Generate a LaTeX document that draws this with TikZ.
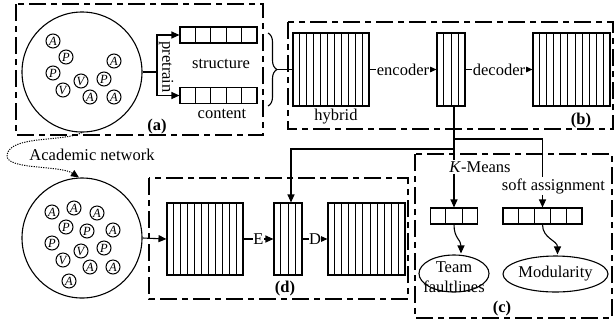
\documentclass[tikz,border=0pt]{standalone}
\usepackage{fontspec}
\setmainfont{Liberation Serif}
\usetikzlibrary{arrows.meta,calc,shapes.geometric,decorations.pathreplacing}
\newcommand{\cellarr}[5]{%
  \node[arr, minimum width=#4 pt, minimum height=#5 pt] (#1) at (#2) {};
  \pgfmathtruncatemacro{\cellm}{#3-1}%
  \foreach \ci in {1,...,\cellm}{\draw[arrline] ($(#1.south west)!\ci/#3!(#1.south east)$) -- ($(#1.north west)!\ci/#3!(#1.north east)$);}%
}
\begin{document}
\begin{tikzpicture}[x=1pt,y=-1pt,
  every node/.style={font=\fontsize{16.5}{19}\selectfont, inner sep=1pt},
  arr/.style={draw, line width=1.1pt, rectangle, inner sep=0pt},
  arrline/.style={line width=1pt},
  conn/.style={line width=1.1pt},
  tri/.style={-{Triangle[length=8pt,width=7pt]}},
  dbox/.style={line width=1.2pt, dash pattern=on 17pt off 5pt on 6pt off 5pt},
  dotline/.style={line width=1pt, dash pattern=on 1.2pt off 1.2pt},
  bigc/.style={draw, circle, line width=1.1pt, minimum size=120pt, inner sep=0pt},
  sc/.style={draw, circle, line width=1pt, minimum size=14pt, inner sep=0pt, font=\fontsize{12.5}{13}\selectfont},
  lbl/.style={fill=white, inner sep=0.5pt},
  bold/.style={font=\fontsize{16.5}{19}\selectfont\bfseries},
  ell/.style={draw, ellipse, line width=1.1pt, inner sep=0pt}
]
\useasboundingbox (0,0) rectangle (615,325);

% dashed group boxes
\draw[dbox] (16,4) rectangle (263,135);
\draw[dbox] (288,22) rectangle (613,129);
\draw[dbox] (149,178) rectangle (408,299);
\draw[dbox] (415,154) rectangle (612,318);

% (a) network
\node[bigc] (bigA) at (82,72) {};
\foreach \px/\py/\lt [count=\k] in {53/41/A,66/57/P,114/61/A,53/73/P,81/81/V,104/79/P,63/90/V,90/97/A,114/97/A}
  \node[sc] (ua\k) at (\px,\py) {\textit{\lt}};

\cellarr{struct}{218.5,35}{5}{77}{16}
\cellarr{cont}{218.5,95.5}{5}{77}{16}
\coordinate (pt) at (157,72);
\draw[conn] (bigA.east) -- (pt);
\draw[conn,tri] (pt) |- (struct.west);
\draw[conn,tri] (pt) |- (cont.west);
\node[rotate=-90] (pre) at (166,67) {pretrain};
\node (st) at (221,64) {structure};
\node (ct) at (222,114) {content};
\node[bold] (la) at (157,127) {(a)};

% brace
\draw[conn, decorate, decoration={brace, amplitude=9pt}] (268,33) -- (268,106);
\coordinate (bt) at (277,69.5);

% (b)
\cellarr{hyb}{331,69.5}{11}{76}{73}
\cellarr{code}{451,69.5}{4}{28}{73}
\cellarr{dec}{571.5,69.5}{11}{77}{73}
\draw[conn] (bt) -- (hyb.west);
\draw[conn,tri] (hyb.east) -- node[lbl] (enc) {encoder} (code.west);
\draw[conn,tri] (code.east) -- node[lbl] (decl) {decoder} (dec.west);
\node (hy) at (336,117) {hybrid};
\node[bold] (lb) at (581,121) {(b)};

% academic network
\node (an) at (92,155) {Academic network};
\node[bigc] (bigB) at (82,238) {};
\foreach \px/\py/\lt [count=\k] in {52/212/A,74/208/A,97/213/A,66/227/P,87/231/P,113/230/A,52/243/P,81/251/V,104/248/P,63/260/V,90/267/A,113/267/A,69/281/A}
  \node[sc] (ub\k) at (\px,\py) {\textit{\lt}};
\draw[dotline,tri] (bigA.south) .. controls (65,142) and (10,135) .. (7,155) .. controls (5,170) and (60,165) .. ($(bigB.north)+(-3,0)$);

% (d)
\cellarr{da}{205,239}{11}{76}{72}
\cellarr{db}{288,239}{4}{28}{72}
\cellarr{dc}{366.5,239}{11}{77}{72}
\draw[conn,tri] (bigB.east) -- (da.west);
\draw[conn,tri] (da.east) -- node[lbl] (le) {E} (db.west);
\draw[conn,tri] (db.east) -- node[lbl] (ld) {D} (dc.west);
\node[bold] (ldd) at (285,289) {(d)};

% (c)
\node (km) at (480,167) {\textit{K}-Means};
\node (softa) at (553.5,186) {soft assignment};
\cellarr{ca}{454,216}{3}{47}{16}
\cellarr{cb}{542.5,216}{5}{79}{16}
\node[ell, minimum width=70pt, minimum height=37pt] (tf) at (454,273.5) {};
\node[align=center, font=\fontsize{16.5}{20}\selectfont] (tft) at (454,277.5) {Team\\faultlines};
\node[ell, minimum width=83pt, minimum height=36pt] (mod) at (555.5,274) {Modularity};
\node[bold] (lc) at (502,309) {(c)};

% connectors from code
\coordinate (cs) at ($(code.south)+(3,0)$);
\coordinate (j1) at (454,149);
\coordinate (j2) at (454,139);
\draw[conn] (cs) -- (cs |- km.north);
\draw[conn,tri] (j1) -| ($(db.north)+(3,0)$);
\draw[conn] (j2) -| (softa.north -| cb.north);
\draw[conn,tri] (km.south -| ca.north) -- (ca.north);
\draw[conn,tri] (softa.south -| cb.north) -- (cb.north);
\draw[conn,tri] (ca.south) .. controls +(0,14) and +(0,-14) .. ($(tf.north)+(7,-1)$);
\draw[conn,tri] (cb.south) .. controls +(0,14) and +(0,-14) .. ($(mod.north)+(2,-1)$);
\end{tikzpicture}
\end{document}
